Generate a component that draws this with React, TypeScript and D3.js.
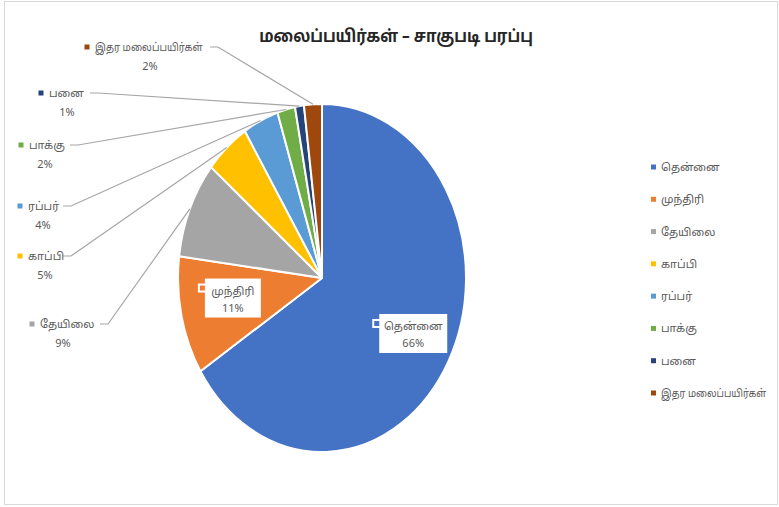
import React from "react";
import * as d3 from "d3";

const categories = ["தென்னை", "முந்திரி", "தேயிலை", "காப்பி", "ரப்பர்", "பாக்கு", "பனை", "இதர மலைப்பயிர்கள்"];
const values = [66, 11, 9, 5, 4, 2, 1, 2];
const colors = ["#4472C4", "#ED7D31", "#A5A5A5", "#FFC000", "#5B9BD5", "#70AD47", "#264478", "#9E480E"];
const title = "மலைப்பயிர்கள் – சாகுபடி பரப்பு";

// layout for outside labels (index -> label anchor)
const outsideLabels: Record<number, { mx: number; my: number; cx: number; lx: number; ly: number }> = {
  7: { mx: 87, my: 47, cx: 150, lx: 210, ly: 47 },
  6: { mx: 41, my: 93, cx: 67, lx: 90, ly: 93 },
  5: { mx: 21, my: 145, cx: 45, lx: 70, ly: 145 },
  4: { mx: 20, my: 206, cx: 43, lx: 63, ly: 206 },
  3: { mx: 20, my: 256, cx: 45, lx: 63, ly: 256 },
  2: { mx: 32, my: 324, cx: 63, lx: 100, ly: 324 },
};
const insideLabels: Record<number, { f: number; dx: number; dy: number; w: number }> = {
  0: { f: 0.62, dx: 13, dy: 3, w: 68 },
  1: { f: 0.62, dx: -2, dy: -4, w: 56 },
};
// horizontal squeeze for the long name
const longName = 7;
const squeezeLegend = 0.86;
const squeezeLabel = 0.88;

const W = 779, H = 507;
const cx = 322, cy = 278, rx = 144, ry = 174;
const FONT = "'Noto Sans', 'Noto Sans Tamil', Lato, sans-serif";
const TXT = "#595959";

export default function App() {
  const pie = d3.pie<number>().sort(null).value((d) => d);
  const arcs = pie(values);
  const arcGen = d3.arc<d3.PieArcDatum<number>>().innerRadius(0).outerRadius(ry);
  const sx = rx / ry;
  const total = d3.sum(values);
  const pct = (v: number) => `${Math.round((v / total) * 100)}%`;
  const edge = (a: d3.PieArcDatum<number>, k = 1) => {
    const m = (a.startAngle + a.endAngle) / 2;
    return [cx + Math.sin(m) * rx * k, cy - Math.cos(m) * ry * k];
  };
  const legendY = d3.scaleLinear().domain([0, categories.length - 1]).range([167, 393]);

  return (
    <div style={{ position: "fixed", left: 0, top: 0 }}>
      <svg width={W} height={H} style={{ display: "block", background: "#fff" }} fontFamily={FONT}>
        <rect x={4.5} y={1.5} width={773} height={503} fill="#fff" stroke="#d9d9d9" />
        <g transform={`translate(396,42) scale(0.9,1)`}>
          <text x={0} y={0} textAnchor="middle" fontSize={17} fontWeight="bold" fill="#262626">
            {title}
          </text>
        </g>
        <g transform={`translate(${cx},${cy}) scale(${sx},1)`}>
          {arcs.map((a, i) => (
            <path key={i} d={arcGen(a) || ""} fill={colors[i]} stroke="#fff" strokeWidth={2} vectorEffect="non-scaling-stroke" strokeLinejoin="round" />
          ))}
        </g>
        {arcs.map((a, i) => {
          const L = outsideLabels[i];
          if (!L) return null;
          const [ex, ey] = edge(a, 1.0);
          const s = i === longName ? squeezeLabel : 1;
          return (
            <g key={"o" + i}>
              <polyline points={`${L.lx},${L.ly} ${L.lx + 8},${L.ly} ${ex},${ey}`} fill="none" stroke="#a6a6a6" strokeWidth={1.2} />
              <rect x={L.mx - 2.5} y={L.my - 2.5} width={5} height={5} fill={colors[i]} />
              <g transform={`translate(${L.mx + 8},${L.my + 4}) scale(${s},1)`}>
                <text x={0} y={0} fontSize={11} fill={TXT}>{categories[i]}</text>
              </g>
              <text x={L.cx} y={L.my + 23} fontSize={11} fill={TXT} textAnchor="middle">{pct(values[i])}</text>
            </g>
          );
        })}
        {arcs.map((a, i) => {
          const L = insideLabels[i];
          if (!L) return null;
          const [px, py] = edge(a, L.f);
          const bx = px + L.dx, by = py + L.dy;
          return (
            <g key={"i" + i}>
              <rect x={bx - L.w / 2} y={by - 19} width={L.w} height={39} fill="#fff" />
              <rect x={bx - L.w / 2 - 7} y={by - 14} width={9} height={9} fill="#fff" />
              <rect x={bx - L.w / 2 - 5} y={by - 12} width={5} height={5} fill={colors[i]} />
              <text x={bx} y={by - 3} fontSize={11} fill={TXT} textAnchor="middle">{categories[i]}</text>
              <text x={bx} y={by + 14} fontSize={11} fill={TXT} textAnchor="middle">{pct(values[i])}</text>
            </g>
          );
        })}
        {categories.map((c, i) => (
          <g key={"l" + i}>
            <rect x={651} y={legendY(i) - 2.5} width={5} height={5} fill={colors[i]} />
            <g transform={`translate(661,${legendY(i) + 4}) scale(${i === longName ? squeezeLegend : 1},1)`}>
              <text x={0} y={0} fontSize={11} fill={TXT}>{c}</text>
            </g>
          </g>
        ))}
      </svg>
    </div>
  );
}
